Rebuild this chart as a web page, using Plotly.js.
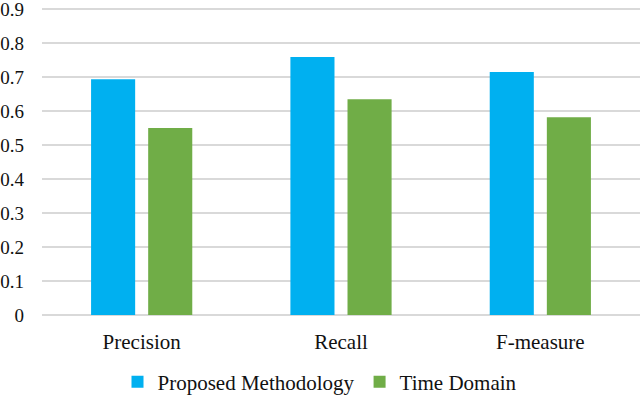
<!DOCTYPE html>
<html>
<head>
<meta charset="utf-8">
<script src="https://cdn.plot.ly/plotly-3.0.1.min.js"></script>
<style>
  html, body { margin: 0; padding: 0; background: #fff; }
  #chart { width: 640px; height: 396px; }
</style>
</head>
<body>
<div id="chart"></div>
<script>
// values
const categories = ["Precision", "Recall", "F-measure"];
const proposedValues = [0.694, 0.759, 0.715];
const timeDomainValues = [0.550, 0.635, 0.582];
const yTicks = [0, 0.1, 0.2, 0.3, 0.4, 0.5, 0.6, 0.7, 0.8, 0.9];
const yTickText = ["0", "0.1", "0.2", "0.3", "0.4", "0.5", "0.6", "0.7", "0.8", "0.9"];

function drawChart(id) {
    const font = "'Liberation Serif', 'Times New Roman', serif";

    let data = [
        {
            x: categories,
            y: proposedValues,
            type: "bar",
            name: "Proposed Methodology",
            marker: {color: "#00b0f0"},
        },
        {
            x: categories,
            y: timeDomainValues,
            type: "bar",
            name: "Time Domain",
            marker: {color: "#70ad47"},
        },
    ];

    let layout = {
        width: 640,
        height: 396,
        margin: {l: 42, r: 0, t: 0, b: 81},
        paper_bgcolor: "#fff",
        plot_bgcolor: "#fff",
        font: {family: font, size: 20, color: "#111"},
        barmode: "group",
        bargap: 0.427,
        bargroupgap: 0.228,
        xaxis: {
            showgrid: false,
            showline: false,
            zeroline: false,
            ticks: "",
            ticklabelstandoff: 12,
            tickfont: {family: font, size: 21},
        },
        yaxis: {
            range: [0, 0.927],
            tickvals: yTicks,
            ticktext: yTickText,
            showgrid: true,
            gridcolor: "#d9d9d9",
            gridwidth: 1.5,
            zeroline: true,
            zerolinecolor: "#d9d9d9",
            zerolinewidth: 1.5,
            showline: false,
            ticks: "",
            ticklabelstandoff: 17,
            ticklabeloverflow: "allow",
            tickfont: {family: font, size: 19},
        },
        showlegend: true,
        legend: {
            orientation: "h",
            xref: "container",
            yref: "container",
            x: 0.5,
            xanchor: "center",
            y: 0.035,
            yanchor: "middle",
            font: {family: font, size: 21},
            itemwidth: 30,
        },
    };

    let config = {staticPlot: true};
    Plotly.newPlot(id, data, layout, config);
}

drawChart("chart");
</script>
</body>
</html>
